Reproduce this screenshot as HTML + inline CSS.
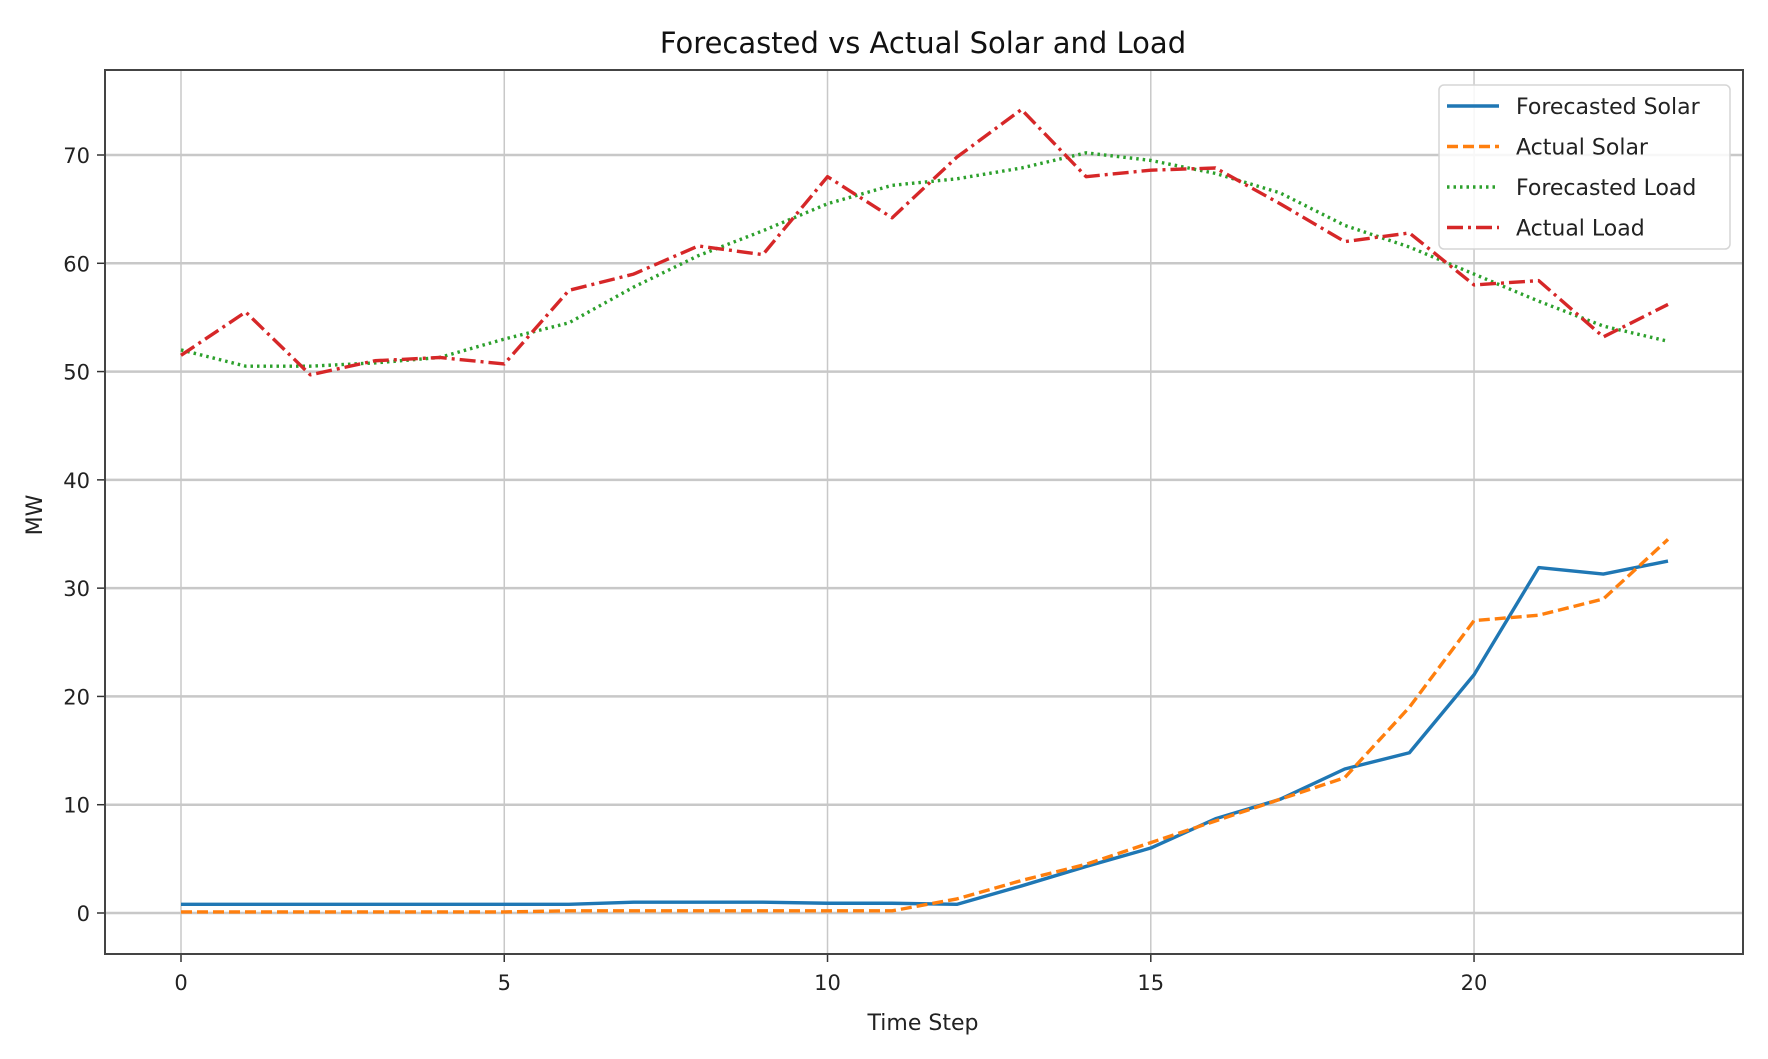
<!DOCTYPE html>
<html><head><meta charset="utf-8"><style>
body{margin:0;background:#fff}
svg{display:block;font-family:"DejaVu Sans","Liberation Sans",sans-serif}
</style></head><body>
<svg id="chart" width="1768" height="1059"></svg>
<script>
const steps=[0,1,2,3,4,5,6,7,8,9,10,11,12,13,14,15,16,17,18,19,20,21,22,23];
const forecastSolar=[0.8,0.8,0.8,0.8,0.8,0.8,0.8,1.0,1.0,1.0,0.9,0.9,0.8,2.5,4.3,6.0,8.7,10.5,13.3,14.8,22,31.9,31.3,32.5];
const actualSolar=[0.1,0.1,0.1,0.1,0.1,0.1,0.2,0.2,0.2,0.2,0.2,0.2,1.3,3,4.5,6.5,8.5,10.5,12.5,19,27,27.5,29,34.5];
const forecastLoad=[52,50.5,50.5,50.8,51.3,53,54.5,57.8,60.7,63,65.5,67.2,67.8,68.8,70.2,69.5,68.3,66.5,63.5,61.5,59,56.5,54.2,52.8];
const actualLoad=[51.5,55.5,49.7,51,51.3,50.7,57.5,59,61.6,60.8,68,64.2,69.8,74.2,68,68.6,68.8,65.5,62,62.8,58,58.4,53.2,56.2];
const xTicks=[0,5,10,15,20];
const yTicks=[0,10,20,30,40,50,60,70];
const seriesNames=["Forecasted Solar","Actual Solar","Forecasted Load","Actual Load"];

const NS="http://www.w3.org/2000/svg";
const svg=document.getElementById('chart');
const L=105,R=1743,T=70,B=954;
const x=v=>181+(v-0)*(1668-181)/23;
const y=v=>913-(v-0)*(913-155)/70;
function el(tag,attrs,parent){const e=document.createElementNS(NS,tag);for(const k in attrs)e.setAttribute(k,attrs[k]);(parent||svg).appendChild(e);return e;}

const title=el('text',{x:923,y:53,'text-anchor':'middle','font-size':29,fill:'#111'});
title.textContent='Forecasted vs Actual Solar and Load';



xTicks.forEach(t=>{
  const g=el('line',{x1:x(t),x2:x(t),y1:T,y2:B,stroke:'#c8c8c8','stroke-width':1.5});
  
  
  const tk=el('line',{x1:x(t),x2:x(t),y1:B,y2:B+8,stroke:'#333','stroke-width':1.5});
  
  
  const lb=el('text',{x:x(t),y:990,'text-anchor':'middle','font-size':21,fill:'#222'});
  lb.textContent=t;
  
  
});
yTicks.forEach(t=>{
  const g=el('line',{x1:L,x2:R,y1:y(t),y2:y(t),stroke:'#c8c8c8','stroke-width':2.5});
  
  
  const tk=el('line',{x1:L-8,x2:L,y1:y(t),y2:y(t),stroke:'#333','stroke-width':1.5});
  
  
  const lb=el('text',{x:90,y:y(t)+8,'text-anchor':'end','font-size':21,fill:'#222'});
  lb.textContent=t;
  
  
});
const frame=el('rect',{x:L,y:T,width:R-L,height:B-T,fill:'none',stroke:'#444','stroke-width':2});



const xl=el('text',{x:923,y:1030,'text-anchor':'middle','font-size':22,fill:'#222'});
xl.textContent='Time Step';


const yl=el('text',{x:42,y:515,'text-anchor':'middle','font-size':22,fill:'#222',transform:'rotate(-90 42 515)'});
yl.textContent='MW';



const styles=[
 {c:'#1f77b4',d:''},
 {c:'#ff7f0e',d:'11,5'},
 {c:'#2ca02c',d:'2.5,4'},
 {c:'#d62728',d:'16,5,3,5'}
];
const data=[forecastSolar,actualSolar,forecastLoad,actualLoad];
const snames=['forecasted-solar-line','actual-solar-line','forecasted-load-line','actual-load-line'];
data.forEach((arr,i)=>{
  const p=el('polyline',{points:arr.map((v,j)=>x(steps[j])+','+y(v)).join(' '),fill:'none',stroke:styles[i].c,'stroke-width':3.4,'stroke-dasharray':styles[i].d,'stroke-linejoin':'round'});
  
  
});

const lg=el('g',{});


el('rect',{x:1439,y:85,width:291,height:164,rx:5,fill:'#fff','fill-opacity':0.85,stroke:'#d5d5d5','stroke-width':1.5},lg);
seriesNames.forEach((n,i)=>{
  const yy=106+i*40.5;
  const e=el('g',{},lg);
  
  
  el('line',{x1:1447,x2:1499,y1:yy,y2:yy,stroke:styles[i].c,'stroke-width':3.4,'stroke-dasharray':styles[i].d},e);
  const t=el('text',{x:1516,y:yy+8,'font-size':22,fill:'#222'},e);
  t.textContent=n;
});
</script>
</body></html>
